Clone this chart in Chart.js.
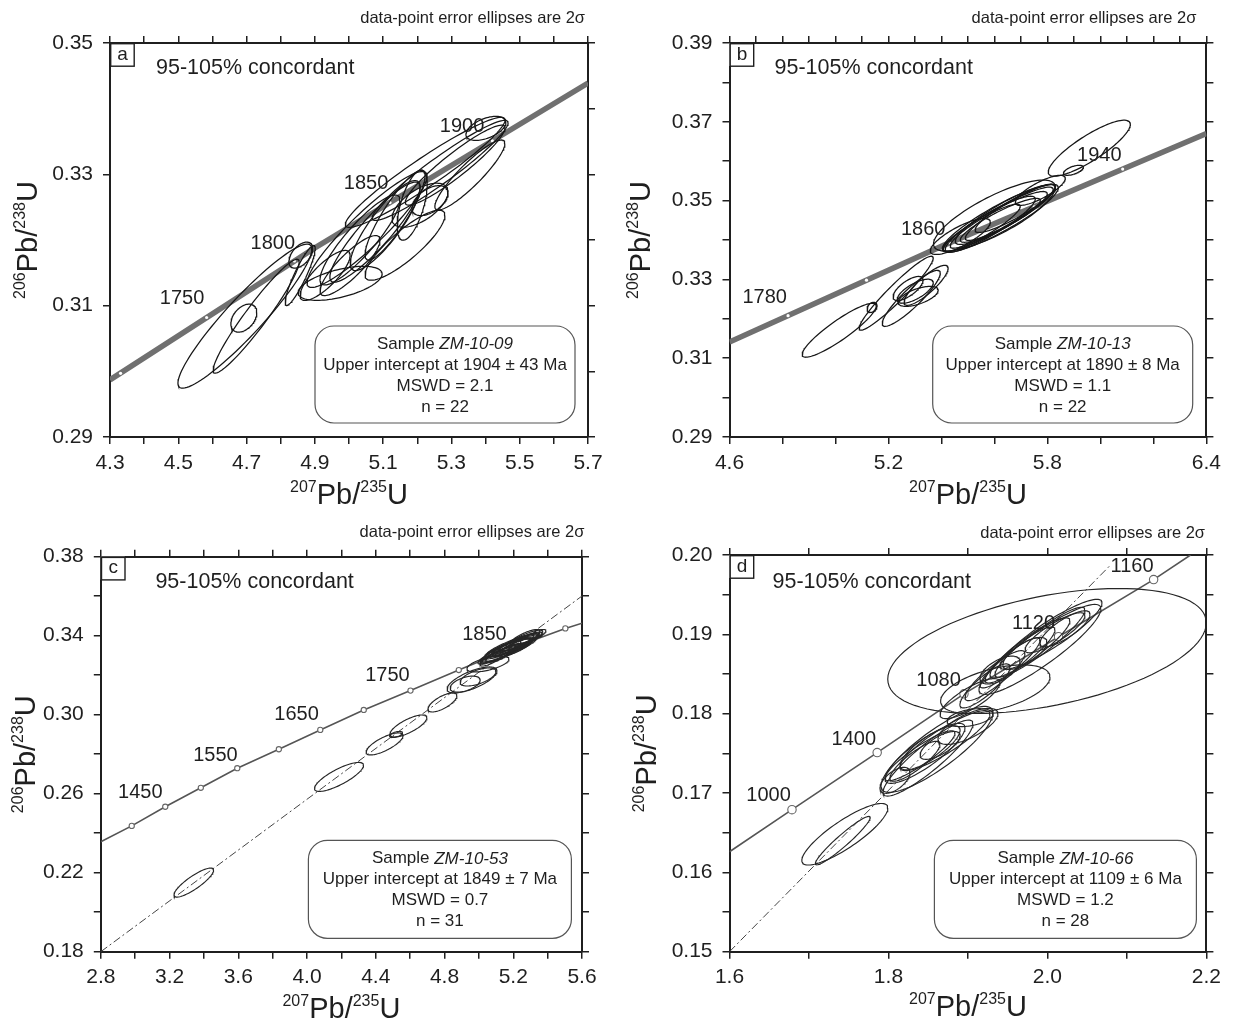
<!DOCTYPE html>
<html><head><meta charset="utf-8">
<script src="https://cdn.jsdelivr.net/npm/chart.js@4/dist/chart.umd.min.js"></script>
<style>
html,body{margin:0;padding:0;background:#fff;}
#wrap{position:relative;width:1233px;height:1024px;overflow:hidden;background:#fff;}
canvas{position:absolute;}
</style></head><body><div id="wrap">
<canvas id="ca" width="616" height="510" style="left:0px;top:0px"></canvas>
<canvas id="cb" width="617" height="510" style="left:616px;top:0px"></canvas>
<canvas id="cc" width="616" height="514" style="left:0px;top:510px"></canvas>
<canvas id="cd" width="617" height="514" style="left:616px;top:510px"></canvas>
</div>
<script>
// ---------------- shared text ----------------
const noteText = '95-105% concordant';
const headerText = 'data-point error ellipses are 2σ';
const xTitleParts = ['207', 'Pb/', '235', 'U'];
const yTitleParts = ['206', 'Pb/', '238', 'U'];

// ---------------- panel a ----------------
const aXLabels = ['4.3','4.5','4.7','4.9','5.1','5.3','5.5','5.7'];
const aYLabels = ['0.29','0.31','0.33','0.35'];
const aConcX = [4.30, 4.90, 5.70];
const aConcY = [0.2987, 0.3188, 0.3439];
const aMarkX = [4.331, 4.583, 4.84, 5.12, 5.42];
const aMarkY = [0.2997, 0.3082, 0.3168, 0.3257, 0.3351];
const aAgeText = ['1750','1800','1850','1900'];
const aAgeX = [4.511, 4.777, 5.050, 5.331];
const aAgeY = [0.3111, 0.3195, 0.3286, 0.3373];
// [x, 2σx, y, 2σy, rho]
const aEllipses = [
  [4.695,0.196,0.3084,0.01097,0.93],[4.728,0.126,0.3084,0.00868,0.95],[4.692,0.038,0.3081,0.00213,0.4],
  [4.859,0.035,0.3177,0.00198,0.5],[4.857,0.044,0.3146,0.00457,0.9],[5.053,0.176,0.3216,0.00883,0.92],
  [5.076,0.132,0.3212,0.00762,0.9],[5.032,0.117,0.3200,0.00685,0.88],[5.106,0.1025,0.3222,0.00685,0.85],
  [5.185,0.044,0.3253,0.00533,0.6],[4.974,0.123,0.3134,0.00259,0.55],[4.930,0.0732,0.3146,0.00381,0.8],
  [5.003,0.0879,0.3161,0.00457,0.85],[5.208,0.082,0.3253,0.00335,0.6],[5.237,0.0527,0.3260,0.00228,0.5],
  [5.164,0.117,0.3192,0.00533,0.85],[5.135,0.0879,0.3238,0.00685,0.88],[5.223,0.234,0.3303,0.00838,0.95],
  [5.267,0.199,0.3306,0.00762,0.95],[5.311,0.146,0.3314,0.00609,0.93],[5.401,0.0586,0.3370,0.00183,0.5],
  [5.354,0.1025,0.3299,0.00533,0.9]
];
const aBox = ['Sample','ZM-10-09','Upper intercept at 1904 ± 43 Ma','MSWD = 2.1','n = 22'];

// ---------------- panel b ----------------
const bXLabels = ['4.6','5.2','5.8','6.4'];
const bYLabels = ['0.29','0.31','0.33','0.35','0.37','0.39'];
const bConcX = [4.60, 5.41, 6.40];
const bConcY = [0.3141, 0.3387, 0.3670];
const bMarkX = [4.821, 5.117, 5.43, 5.75, 6.084];
const bMarkY = [0.3208, 0.3298, 0.3393, 0.3484, 0.3580];
const bAgeText = ['1780','1860','1940'];
const bAgeX = [4.733, 5.331, 5.996];
const bAgeY = [0.3255, 0.3426, 0.3615];
const bEllipses = [
  [5.014,0.1398,0.3171,0.00685,0.9],[5.229,0.1398,0.3265,0.00939,0.95],[5.138,0.0189,0.3229,0.00127,0.3],
  [5.286,0.1095,0.3252,0.00711,0.9],[5.301,0.068,0.3270,0.00305,0.7],[5.312,0.0756,0.3257,0.00254,0.6],
  [5.274,0.0567,0.3277,0.00305,0.7],[5.342,0.0831,0.3285,0.00508,0.85],[5.600,0.23,0.3462,0.0090,0.8],
  [5.622,0.2191,0.3455,0.00863,0.9],[5.603,0.1964,0.3447,0.00761,0.92],[5.641,0.1889,0.3465,0.00761,0.9],
  [5.584,0.17,0.3440,0.00711,0.9],[5.660,0.17,0.3470,0.00711,0.92],[5.622,0.1511,0.3450,0.00558,0.9],
  [5.565,0.1322,0.3435,0.00558,0.9],[5.678,0.1511,0.3480,0.00609,0.9],[5.614,0.2078,0.3453,0.00812,0.93],
  [5.471,0.1133,0.3409,0.00457,0.8],[5.958,0.1549,0.3633,0.00711,0.85],[5.898,0.0378,0.3577,0.00127,0.6],
  [5.773,0.0944,0.3526,0.00381,0.8]
];
const bBox = ['Sample','ZM-10-13','Upper intercept at 1890 ± 8 Ma','MSWD = 1.1','n = 22'];

// ---------------- panel c ----------------
const cXLabels = ['2.8','3.2','3.6','4.0','4.4','4.8','5.2','5.6'];
const cYLabels = ['0.18','0.22','0.26','0.30','0.34','0.38'];
const cConcX = [2.80, 2.980, 3.175, 3.382, 3.594, 3.836, 4.077, 4.330, 4.602, 4.883, 5.204, 5.503, 5.60];
const cConcY = [0.2357, 0.2437, 0.2534, 0.2630, 0.2729, 0.2825, 0.2923, 0.3024, 0.3122, 0.3226, 0.3341, 0.3437, 0.3463];
const cMarkX = [2.980, 3.175, 3.382, 3.594, 3.836, 4.077, 4.330, 4.602, 4.883, 5.204, 5.503];
const cMarkY = [0.2437, 0.2534, 0.2630, 0.2729, 0.2825, 0.2923, 0.3024, 0.3122, 0.3226, 0.3341, 0.3437];
const cDiscX = [2.80, 5.60];
const cDiscY = [0.180, 0.3601];
const cAgeText = ['1450','1550','1650','1750','1850'];
const cAgeX = [3.030, 3.467, 3.939, 4.468, 5.032];
const cAgeY = [0.2605, 0.2796, 0.2999, 0.3201, 0.3404];
const cEllipses = [
  [3.341,0.1152,0.2150,0.00734,0.85],[4.186,0.1426,0.2685,0.00734,0.8],[4.451,0.1077,0.2852,0.00557,0.75],
  [4.590,0.1077,0.2943,0.00557,0.75],[4.518,0.0378,0.2900,0.00152,0.5],[4.788,0.0844,0.3062,0.00481,0.7],
  [4.960,0.1455,0.3176,0.00658,0.7],[4.995,0.1047,0.3191,0.00456,0.6],[4.920,0.0873,0.3155,0.00405,0.5],
  [5.053,0.1222,0.3257,0.00405,0.6],[5.181,0.163,0.3338,0.00709,0.9],[5.210,0.1455,0.3353,0.00608,0.92],
  [5.152,0.1455,0.3323,0.00608,0.9],[5.239,0.128,0.3368,0.00506,0.9],[5.123,0.1164,0.3307,0.00506,0.9],
  [5.192,0.1164,0.3343,0.00456,0.85],[5.169,0.1746,0.3333,0.00759,0.93],[5.268,0.0873,0.3391,0.00405,0.8],
  [5.094,0.0873,0.3292,0.00456,0.85],[5.227,0.1047,0.3348,0.00405,0.85],[5.140,0.1047,0.3328,0.00456,0.85],
  [5.198,0.1513,0.3358,0.00557,0.92],[5.344,0.029,0.3409,0.00203,0.3],[5.274,0.1164,0.3386,0.00456,0.85],
  [5.163,0.128,0.3317,0.00456,0.9],[5.187,0.0931,0.3328,0.00354,0.8],[5.216,0.0815,0.3348,0.00354,0.8],
  [5.111,0.0698,0.3297,0.00304,0.7],[5.245,0.0698,0.3358,0.00304,0.7],[5.175,0.1397,0.3343,0.00506,0.9],
  [5.233,0.1164,0.3363,0.00405,0.88]
];
const cBox = ['Sample','ZM-10-53','Upper intercept at 1849 ± 7 Ma','MSWD = 0.7','n = 31'];

// ---------------- panel d ----------------
const dXLabels = ['1.6','1.8','2.0','2.2'];
const dYLabels = ['0.15','0.16','0.17','0.18','0.19','0.20'];
const dConcX = [1.600, 1.6786, 1.7858, 1.895, 2.014, 2.1336, 2.180];
const dConcY = [0.1626, 0.1679, 0.1751, 0.1825, 0.1897, 0.1969, 0.2000];
const dMarkX = [1.6786, 1.7858, 1.895, 2.014, 2.1336];
const dMarkY = [0.1679, 0.1751, 0.1825, 0.1897, 0.1969];
const dDiscX = [1.60, 2.08];
const dDiscY = [0.150, 0.1988];
const dAgeText = ['1000','1400','1080','1120','1160'];
const dAgeX = [1.6492, 1.7564, 1.863, 1.9826, 2.1064];
const dAgeY = [0.1697, 0.1768, 0.1842, 0.1914, 0.1986];
const dEllipses = [
  [1.9995,0.2004,0.1879,0.00788,0.45],[1.9344,0.0688,0.1831,0.00305,0.5],[1.7451,0.0541,0.1648,0.00388,0.85],
  [1.7425,0.0345,0.1640,0.00305,0.95],[1.8611,0.0705,0.1755,0.00542,0.85],[1.846,0.0503,0.1750,0.00378,0.85],
  [1.8524,0.0377,0.1757,0.00277,0.8],[1.8711,0.0566,0.1766,0.00378,0.88],[1.8397,0.044,0.1747,0.00315,0.9],
  [1.9026,0.0289,0.1795,0.00113,0.4],[1.9,0.0377,0.1784,0.00227,0.7],[1.8333,0.0315,0.1740,0.00252,0.85],
  [1.8497,0.0566,0.1744,0.00479,0.9],[2.0045,0.0642,0.1900,0.00441,0.9],[1.9906,0.0566,0.1890,0.00441,0.92],
  [1.978,0.0503,0.1883,0.00378,0.9],[1.9655,0.044,0.1874,0.00353,0.9],[1.9529,0.0377,0.1864,0.00315,0.9],
  [1.934,0.0377,0.1848,0.00315,0.88],[1.9214,0.0315,0.1835,0.00277,0.85],[1.9026,0.0377,0.1819,0.00252,0.8],
  [2.0221,0.0315,0.1907,0.00227,0.8],[1.9906,0.0767,0.1881,0.00567,0.9],[1.9403,0.0252,0.1855,0.00176,0.6],
  [1.8649,0.0252,0.1760,0.00176,0.7],[1.8082,0.0189,0.1716,0.00164,0.6],[1.9717,0.0277,0.1876,0.00202,0.7],
  [2.0095,0.0377,0.1902,0.00252,0.85]
];
const dBox = ['Sample','ZM-10-66','Upper intercept at 1109 ± 6 Ma','MSWD = 1.2','n = 28'];

// ---------------- helpers ----------------
const FONT = '"Liberation Sans", Arial, Helvetica, sans-serif';
const INK = '#1f1f1f';

function zip(xs, ys) { return xs.map((v, i) => ({x: v, y: ys[i]})); }
function ellipseOutline(e) {
  const [cx, sx, cy, sy, r] = e, q = Math.sqrt(1 - r * r), pts = [];
  for (let k = 0; k <= 96; k++) {
    const t = 2 * Math.PI * k / 96;
    pts.push({x: cx + sx * Math.cos(t), y: cy + sy * (r * Math.cos(t) + q * Math.sin(t))});
  }
  return pts;
}
function labelCb(labels) {
  return v => { const m = labels.find(l => Math.abs(parseFloat(l) - v) < 1e-6); return m === undefined ? '' : m; };
}
function rrect(ctx, x, y, w, h, r) {
  ctx.beginPath();
  ctx.moveTo(x + r, y); ctx.lineTo(x + w - r, y); ctx.arcTo(x + w, y, x + w, y + r, r);
  ctx.lineTo(x + w, y + h - r); ctx.arcTo(x + w, y + h, x + w - r, y + h, r);
  ctx.lineTo(x + r, y + h); ctx.arcTo(x, y + h, x, y + h - r, r);
  ctx.lineTo(x, y + r); ctx.arcTo(x, y, x + r, y, r); ctx.closePath();
}
function drawSupTitle(ctx, parts, cx, cy, rot) {
  const big = 29, small = 16;
  ctx.save(); ctx.translate(cx, cy); ctx.rotate(rot);
  let w = 0;
  parts.forEach((p, i) => { ctx.font = (i % 2 === 0 ? small : big) + 'px ' + FONT; w += ctx.measureText(p).width; });
  let x = -w / 2; ctx.textAlign = 'left'; ctx.textBaseline = 'alphabetic'; ctx.fillStyle = INK;
  const base = big * 0.36;
  parts.forEach((p, i) => {
    const sup = i % 2 === 0;
    ctx.font = (sup ? small : big) + 'px ' + FONT;
    ctx.fillText(p, x, sup ? base - big * 0.42 : base);
    x += ctx.measureText(p).width;
  });
  ctx.restore();
}

function makeAnnot(P) {
  return {
    id: 'annot' + P.letter,
    afterDraw(chart) {
      const ctx = chart.ctx, ca = chart.chartArea, xs = chart.scales.x, ys = chart.scales.y, L = P.lay;
      ctx.save();
      ctx.fillStyle = INK; ctx.textAlign = 'center'; ctx.textBaseline = 'middle';
      ctx.font = '20px ' + FONT;
      P.ageText.forEach((t, i) => ctx.fillText(t, xs.getPixelForValue(P.ageX[i]), ys.getPixelForValue(P.ageY[i])));
      // panel letter
      ctx.fillStyle = '#fff'; ctx.fillRect(ca.left, ca.top, 24, 23);
      ctx.strokeStyle = INK; ctx.lineWidth = 1.4; ctx.strokeRect(ca.left + 0.7, ca.top + 0.7, 23.5, 22.5);
      ctx.fillStyle = INK; ctx.font = '19px ' + FONT; ctx.fillText(P.letter, ca.left + 12.5, ca.top + 11.5);
      // concordance note
      ctx.textAlign = 'left'; ctx.font = '21.5px ' + FONT;
      ctx.fillText(noteText, ca.left + L.noteDx, ca.top + L.noteDy);
      // header
      ctx.textAlign = 'right'; ctx.font = '16.5px ' + FONT;
      ctx.fillText(headerText, ca.right + L.headDx, ca.top - L.headDy);
      // sample box
      const bw = L.boxW, bh = L.boxH, bx = ca.right - L.boxR - bw, by = ca.bottom - L.boxB - bh;
      rrect(ctx, bx, by, bw, bh, 19); ctx.strokeStyle = '#555'; ctx.lineWidth = 1.2; ctx.stroke();
      ctx.fillStyle = INK; ctx.textAlign = 'left';
      ctx.font = '17px ' + FONT; const w1 = ctx.measureText(P.box[0] + ' ').width;
      ctx.font = 'italic 17px ' + FONT; const w2 = ctx.measureText(P.box[1]).width;
      const sx = bx + bw / 2 - (w1 + w2) / 2;
      ctx.font = '17px ' + FONT; ctx.fillText(P.box[0] + ' ', sx, by + 18.5);
      ctx.font = 'italic 17px ' + FONT; ctx.fillText(P.box[1], sx + w1, by + 18.5);
      ctx.textAlign = 'center'; ctx.font = '17px ' + FONT;
      for (let i = 2; i < 5; i++) ctx.fillText(P.box[i], bx + bw / 2, by + 18.5 + 20.8 * (i - 1));
      // axis titles
      drawSupTitle(ctx, xTitleParts, (ca.left + ca.right) / 2, ca.bottom + L.xTitleDy, 0);
      drawSupTitle(ctx, yTitleParts, ca.left - L.yTitleDx, (ca.top + ca.bottom) / 2, -Math.PI / 2);
      ctx.restore();
    }
  };
}

function axisCommon(extra) {
  return Object.assign({
    type: 'linear',
    grid: {drawOnChartArea: false, drawTicks: true, tickLength: 7, color: INK, lineWidth: 1.5},
    border: {display: true, color: INK, width: 2}
  }, extra);
}

function build(id, P) {
  const ds = [];
  P.ellipses.forEach(e => ds.push({
    data: ellipseOutline(e), showLine: true, borderColor: P.ellColor, borderWidth: P.ellWidth,
    pointRadius: 0, fill: false, tension: 0, order: 1
  }));
  ds.push({data: zip(P.concX, P.concY), showLine: true, borderColor: P.concColor, borderWidth: P.concWidth,
    pointRadius: 0, fill: false, order: 10});
  ds.push({data: zip(P.markX, P.markY), showLine: false, pointRadius: P.markR, pointBackgroundColor: '#fff',
    pointBorderColor: P.markBorder, pointBorderWidth: P.markBW, order: 6});
  if (P.discX) ds.push({data: zip(P.discX, P.discY), showLine: true, borderColor: '#444', borderWidth: 1,
    borderDash: [8, 3, 2, 3], pointRadius: 0, fill: false, order: 8});
  const L = P.lay;
  const tickFont = {family: FONT, size: 21};
  return new Chart(document.getElementById(id), {
    type: 'scatter',
    data: {datasets: ds},
    options: {
      responsive: false, animation: false, devicePixelRatio: 1, events: [],
      layout: {padding: 0},
      plugins: {legend: {display: false}, tooltip: {enabled: false}},
      scales: {
        x: axisCommon({position: 'bottom', min: P.xMin, max: P.xMax,
          ticks: {stepSize: P.xStepB, autoSkip: false, maxRotation: 0, padding: L.xPad, color: INK, font: tickFont, callback: labelCb(P.xLabels)},
          afterFit: s => { s.height = L.bottomH; }}),
        x2: axisCommon({position: 'top', min: P.xMin, max: P.xMax,
          ticks: {stepSize: P.xStepT, autoSkip: false, display: false},
          afterFit: s => { s.height = L.topH; }}),
        y: axisCommon({position: 'left', min: P.yMin, max: P.yMax,
          ticks: {stepSize: P.yStepL, autoSkip: false, padding: 10, color: INK, font: tickFont, callback: labelCb(P.yLabels)},
          afterFit: s => { s.width = L.leftW; }}),
        y2: axisCommon({position: 'right', min: P.yMin, max: P.yMax,
          ticks: {stepSize: P.yStepR, autoSkip: false, display: false},
          afterFit: s => { s.width = L.rightW; }})
      }
    },
    plugins: [makeAnnot(P)]
  });
}

const thick = {concColor: '#707070', concWidth: 5.5, markR: 1.6, markBorder: '#fff', markBW: 0, ellColor: '#161616', ellWidth: 1.25};
const thin = {concColor: '#555', concWidth: 1.6, markBorder: '#666', markBW: 1.1, ellColor: '#262626', ellWidth: 1.15};

build('ca', Object.assign({}, thick, {
  letter: 'a', xMin: 4.3, xMax: 5.7, yMin: 0.29, yMax: 0.35, xStepB: 0.1, xStepT: 0.1, yStepL: 0.02, yStepR: 0.01,
  xLabels: aXLabels, yLabels: aYLabels, concX: aConcX, concY: aConcY, markX: aMarkX, markY: aMarkY,
  ageText: aAgeText, ageX: aAgeX, ageY: aAgeY, ellipses: aEllipses, box: aBox,
  lay: {leftW: 110, rightW: 28, topH: 43, bottomH: 73, xPad: 7, noteDx: 46, noteDy: 25, headDx: -3, headDy: 24.5,
        boxW: 260, boxH: 97, boxR: 13, boxB: 14, xTitleDy: 57, yTitleDx: 83}
}));
build('cb', Object.assign({}, thick, {
  letter: 'b', xMin: 4.6, xMax: 6.4, yMin: 0.29, yMax: 0.39, xStepB: 0.2, xStepT: 0.1, yStepL: 0.01, yStepR: 0.01,
  xLabels: bXLabels, yLabels: bYLabels, concX: bConcX, concY: bConcY, markX: bMarkX, markY: bMarkY,
  ageText: bAgeText, ageX: bAgeX, ageY: bAgeY, ellipses: bEllipses, box: bBox,
  lay: {leftW: 113.5, rightW: 26.6, topH: 43, bottomH: 73, xPad: 7, noteDx: 45, noteDy: 25.3, headDx: -10, headDy: 24.5,
        boxW: 260, boxH: 97, boxR: 13.7, boxB: 14, xTitleDy: 57, yTitleDx: 90}
}));
build('cc', Object.assign({}, thin, {
  letter: 'c', xMin: 2.8, xMax: 5.6, yMin: 0.18, yMax: 0.38, xStepB: 0.2, xStepT: 0.2, yStepL: 0.02, yStepR: 0.02,
  xLabels: cXLabels, yLabels: cYLabels, concX: cConcX, concY: cConcY, markX: cMarkX, markY: cMarkY, markR: 2.6,
  discX: cDiscX, discY: cDiscY,
  ageText: cAgeText, ageX: cAgeX, ageY: cAgeY, ellipses: cEllipses, box: cBox,
  lay: {leftW: 100.8, rightW: 34, topH: 46.7, bottomH: 72.3, xPad: 6, noteDx: 54.6, noteDy: 25, headDx: 2.4, headDy: 24,
        boxW: 263, boxH: 98, boxR: 10.6, boxB: 13.4, xTitleDy: 56, yTitleDx: 76}
}));
build('cd', Object.assign({}, thin, {
  letter: 'd', xMin: 1.6, xMax: 2.2, yMin: 0.15, yMax: 0.20, xStepB: 0.1, xStepT: 0.1, yStepL: 0.005, yStepR: 0.005,
  xLabels: dXLabels, yLabels: dYLabels, concX: dConcX, concY: dConcY, markX: dMarkX, markY: dMarkY, markR: 4.2,
  discX: dDiscX, discY: dDiscY,
  ageText: dAgeText, ageX: dAgeX, ageY: dAgeY, ellipses: dEllipses, box: dBox,
  lay: {leftW: 113.5, rightW: 26.6, topH: 45, bottomH: 72.3, xPad: 6, noteDx: 43, noteDy: 26.7, headDx: -1.4, headDy: 21.7,
        boxW: 262, boxH: 98, boxR: 10, boxB: 13.4, xTitleDy: 54, yTitleDx: 83.5}
}));
</script>
</body></html>
